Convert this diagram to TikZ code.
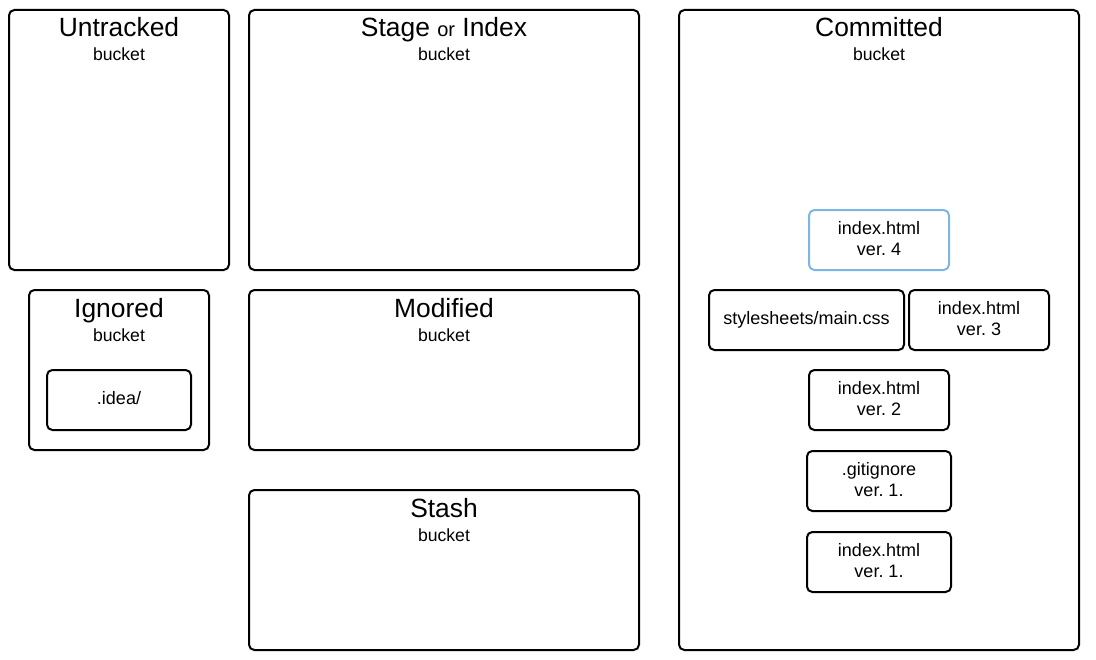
\documentclass[tikz,border=0pt]{standalone}
\usepackage{fontspec}
\setmainfont{Liberation Sans}
\definecolor{selblue}{RGB}{125,182,228}
\frenchspacing
\begin{document}
\begin{tikzpicture}[x=0.75pt,y=-0.75pt,
  bucketbox/.style={draw=black,line width=1.5pt,rounded corners=4pt},
  itembox/.style={draw=black,line width=1.5pt,rounded corners=4pt,align=center,font=\fontsize{13.5}{16}\selectfont,text depth=2.5pt},
  bluebox/.style={itembox,draw=selblue},
  titletext/.style={anchor=base,inner sep=0pt,font=\fontsize{19.8}{22}\selectfont},
  subtext/.style={anchor=base,inner sep=0pt,font=\fontsize{13.2}{15}\selectfont}]
\useasboundingbox (0,0) rectangle (1096,660);
% buckets
\draw[bucketbox] (9,10) rectangle (229,270);
\draw[bucketbox] (249,10) rectangle (639,270);
\draw[bucketbox] (679,10) rectangle (1079,650);
\draw[bucketbox] (29,290) rectangle (209,450);
\draw[bucketbox] (249,290) rectangle (639,450);
\draw[bucketbox] (249,490) rectangle (639,650);
% bucket titles
\node[titletext] (tUntr) at (119,37) {Untracked};
\node[subtext] (sUntr) at (119,61) {bucket};
\node[titletext] (tStage) at (444,37) {Stage {\fontsize{15}{18}\selectfont or} Index};
\node[subtext] (sStage) at (444,61) {bucket};
\node[titletext] (tComm) at (879,37) {Committed};
\node[subtext] (sComm) at (879,61) {bucket};
\node[titletext] (tIgn) at (119,317) {Ignored};
\node[subtext] (sIgn) at (119,341) {bucket};
\node[titletext] (tMod) at (444,317) {Modified};
\node[subtext] (sMod) at (444,341) {bucket};
\node[titletext] (tStash) at (444,517) {Stash};
\node[subtext] (sStash) at (444,541) {bucket};
% files
\node[itembox,minimum width=108pt,minimum height=45pt] (idea) at (119,400) {.idea/};
\node[bluebox,minimum width=105pt,minimum height=45pt] (v4) at (879,240) {index.html\\ver. 4};
\node[itembox,minimum width=146.25pt,minimum height=45pt] (css) at (806.5,320) {stylesheets/main.css};
\node[itembox,minimum width=105pt,minimum height=45pt] (v3) at (979,320) {index.html\\ver. 3};
\node[itembox,minimum width=105pt,minimum height=45pt] (v2) at (879,400) {index.html\\ver. 2};
\node[itembox,minimum width=108pt,minimum height=45pt] (gi) at (879,481) {.gitignore\\ver. 1.};
\node[itembox,minimum width=108pt,minimum height=45pt] (v1) at (879,562) {index.html\\ver. 1.};
\end{tikzpicture}
\end{document}
